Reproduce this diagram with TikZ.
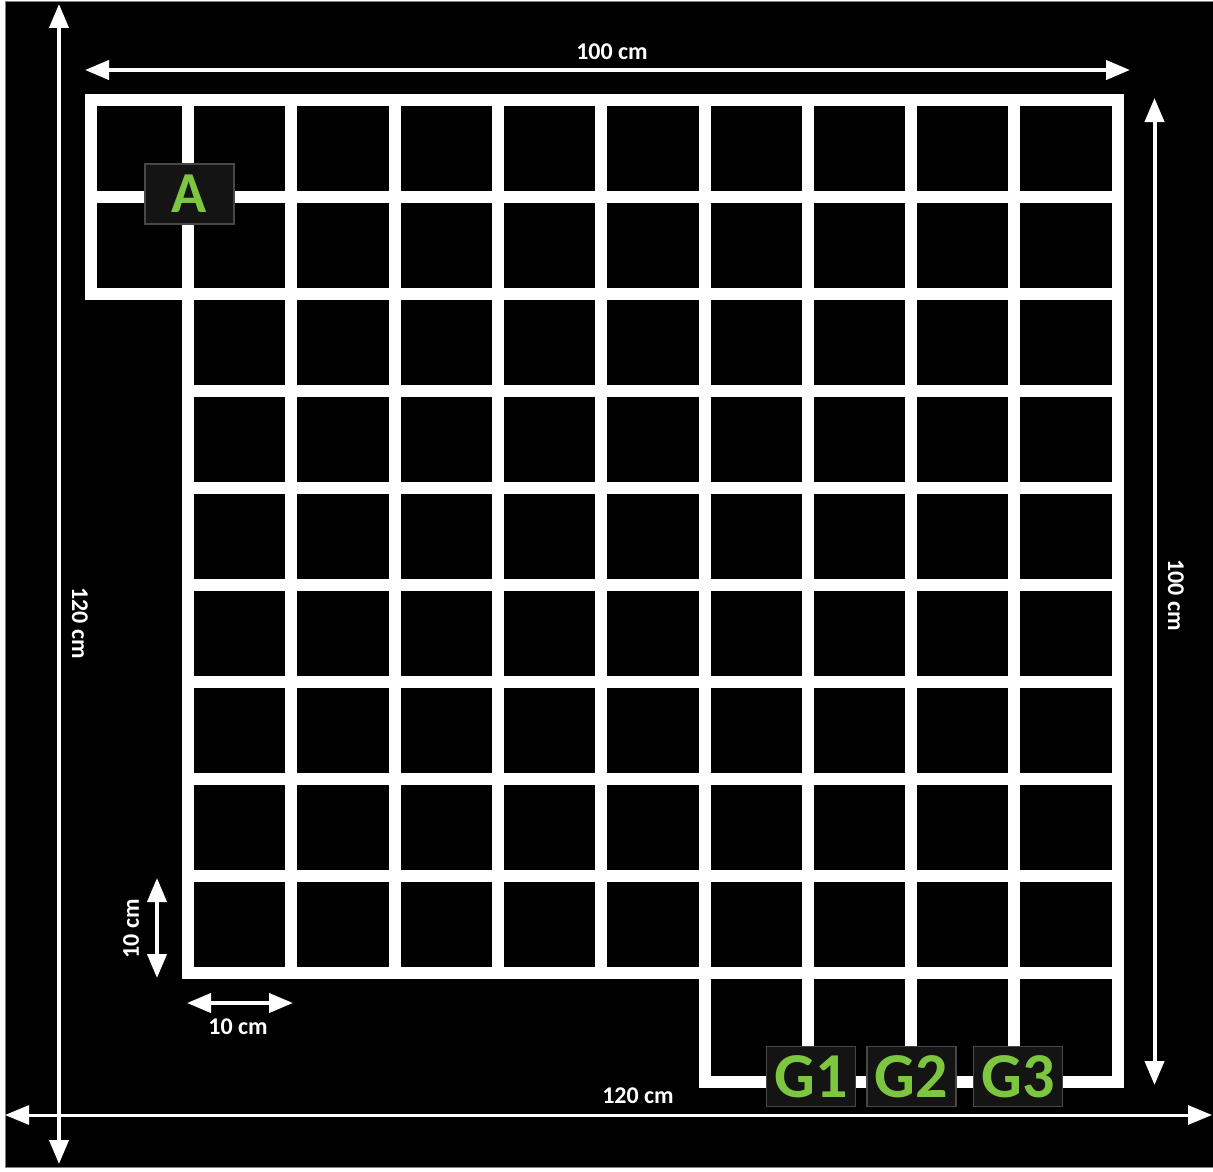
\documentclass[tikz,border=0pt]{standalone}
\usepackage{fontspec}
\setmainfont{Carlito}
\usetikzlibrary{arrows.meta, positioning}

\definecolor{labelgreen}{RGB}{125,198,64}
\definecolor{boxgray}{RGB}{72,72,72}

\begin{document}
\begin{tikzpicture}[x=1pt,y=-1pt]
        % Setup the styles for the grid, the boxes and the measures
        \tikzset{grid line/.style={draw=white,
                                   line width=12pt,
                                   line cap=rect},
                 dim arrow/.style={draw=white,
                                   line width=4pt,
                                   {Triangle[length=24pt,width=19pt]}-{Triangle[length=24pt,width=19pt]}},
                 dim label/.style={text=white,
                                   inner sep=0pt,
                                   font=\fontsize{24}{24}\selectfont\bfseries},
                 cell label/.style={draw=boxgray,
                                    line width=1.2pt,
                                    fill=black!92,
                                    text=labelgreen,
                                    inner sep=0pt,
                                    minimum width=89pt,
                                    minimum height=60pt}}

        % Background
        \useasboundingbox (0,0) rectangle (1213,1172);
        \fill[white] (0,0) rectangle (1213,1172);
        \filldraw[fill=black, draw=gray, line width=1pt] (5,2) rectangle (1213,1167);

        % Draw the horizontal lines of the grid
        \foreach \j in {0,1,2}
            \draw[grid line] (90.5,{99.5+\j*97.1}) -- (1117.7,{99.5+\j*97.1});
        \foreach \j in {3,...,9}
            \draw[grid line] (188,{99.5+\j*97.1}) -- (1117.7,{99.5+\j*97.1});
        \draw[grid line] (704.5,1082) -- (1117.7,1082);

        % Draw the vertical lines of the grid
        \draw[grid line] (90.5,99.5) -- (90.5,293.7);
        \foreach \i in {1,...,5}
            \draw[grid line] ({188+(\i-1)*103.3},99.5) -- ({188+(\i-1)*103.3},973.4);
        \foreach \i in {6,...,10}
            \draw[grid line] ({188+(\i-1)*103.3},99.5) -- ({188+(\i-1)*103.3},1082);

        % Draw the start and the goals
        \node[cell label, font=\fontsize{58}{58}\selectfont\bfseries] at (189.5,194)  (start) {A};
        \node[cell label, font=\fontsize{64}{64}\selectfont\bfseries] at (811,1076.5) (goal1) {G1};
        \node[cell label, font=\fontsize{64}{64}\selectfont\bfseries] at (911.5,1076.5) (goal2) {G2};
        \node[cell label, font=\fontsize{64}{64}\selectfont\bfseries] at (1018,1076.5) (goal3) {G3};

        % Ends of the measures
        \coordinate (top west)    at (85,70);
        \coordinate (top east)    at (1130,70);
        \coordinate (right north) at (1154.5,98);
        \coordinate (right south) at (1154.5,1085);
        \coordinate (left north)  at (59,4);
        \coordinate (left south)  at (59,1164);
        \coordinate (bottom west) at (5,1115);
        \coordinate (bottom east) at (1212,1115);
        \coordinate (cell north)  at (157,878);
        \coordinate (cell south)  at (157,978);
        \coordinate (cell west)   at (187,1003);
        \coordinate (cell east)   at (293,1003);

        % Draw the measures
        \draw[dim arrow] (top west) -- (top east);
        \draw[dim arrow] (right north) -- (right south);
        \draw[dim arrow] (left north) -- (left south);
        \draw[dim arrow, line width=3pt] (bottom west) -- (bottom east);
        \draw[dim arrow] (cell north) -- (cell south);
        \draw[dim arrow] (cell west) -- (cell east);

        % Labels of the measures
        \node[dim label] at (612,52)                 (top len)    {100 cm};
        \node[dim label, rotate=-90] at (1176,595)   (right len)  {100 cm};
        \node[dim label, rotate=-90] at (80,623)     (left len)   {120 cm};
        \node[dim label] at (638,1096)               (bottom len) {120 cm};
        \node[dim label, rotate=90] at (131,929)     (cell high)  {10 cm};
        \node[dim label] at (238,1027)               (cell wide)  {10 cm};
\end{tikzpicture}
\end{document}
